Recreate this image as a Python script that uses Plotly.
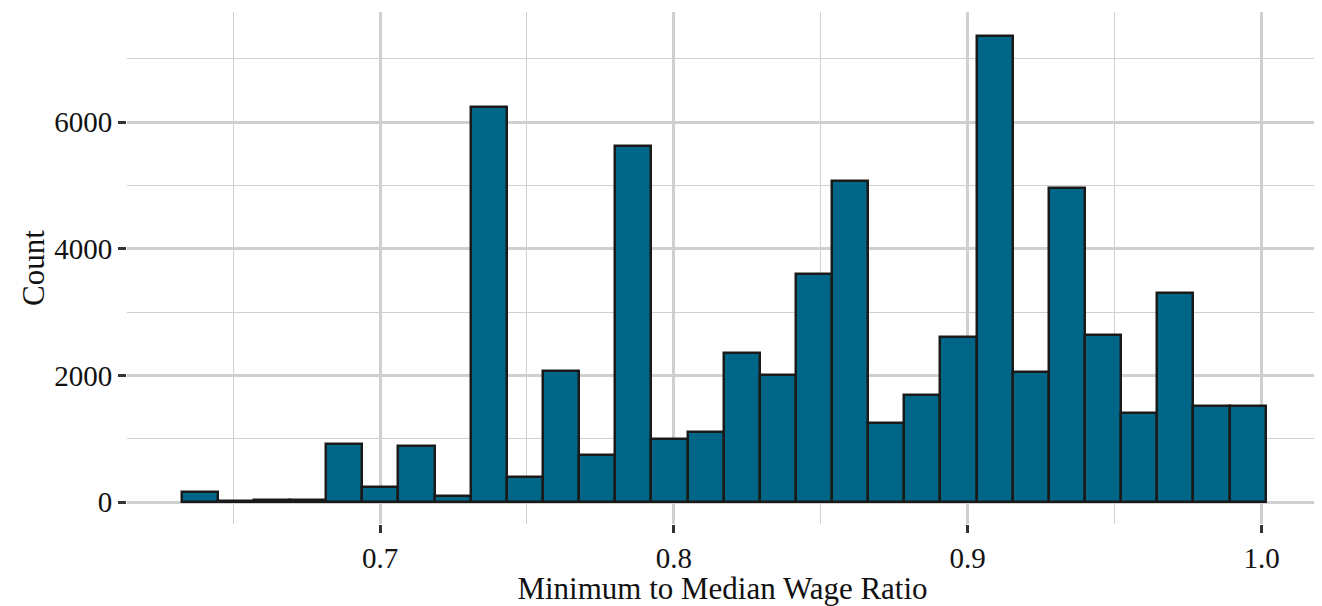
import plotly.graph_objects as go

# Histogram bins (30 equal-width bins)
bin_start = 0.6325
bin_width = 0.012296
counts = [160, 10, 25, 30, 920, 235, 890, 95, 6230, 395,
          2065, 740, 5620, 990, 1105, 2355, 2000, 3595, 5065, 1245,
          1685, 2605, 7360, 2060, 4960, 2635, 1400, 3300, 1510, 1510]

x_title = "Minimum to Median Wage Ratio"
y_title = "Count"
x_ticks = [0.7, 0.8, 0.9, 1.0]
x_ticktext = ["0.7", "0.8", "0.9", "1.0"]
y_ticks = [0, 2000, 4000, 6000]

centers = [bin_start + bin_width * (i + 0.5) for i in range(len(counts))]

fig = go.Figure(go.Bar(
    x=centers, y=counts, width=bin_width,
    marker=dict(color="#006688", line=dict(color="#1a1a1a", width=2.5)),
))

grid = "#d0d0d0"
fig.update_layout(
    width=1314, height=598,
    margin=dict(l=119, r=4, t=4, b=82),
    plot_bgcolor="white", paper_bgcolor="white",
    font=dict(family="Liberation Serif", size=31, color="#111111"),
    showlegend=False, bargap=0,
    xaxis=dict(
        range=[0.6139, 1.0192], tickvals=x_ticks, ticktext=x_ticktext,
        showgrid=True, gridcolor=grid, gridwidth=2.5, zeroline=False, showline=False,
        ticks="outside", ticklen=8, tickwidth=2.5, tickcolor="#333333",
        minor=dict(tickvals=[0.65, 0.75, 0.85, 0.95], showgrid=True, gridcolor=grid, gridwidth=1.3, ticks=""),
        title=dict(text=x_title, standoff=2, font=dict(size=31)),
        tickfont=dict(size=29, color="#111111"),
        automargin=False,
    ),
    yaxis=dict(
        range=[-347, 7737], tickvals=y_ticks,
        showgrid=True, gridcolor=grid, gridwidth=2.5, zeroline=False, showline=False,
        ticks="outside", ticklen=8, tickwidth=2.5, tickcolor="#333333",
        minor=dict(tickvals=[1000, 3000, 5000, 7000], showgrid=True, gridcolor=grid, gridwidth=1.3, ticks=""),
        title=dict(text=y_title, standoff=0, font=dict(size=31)),
        tickfont=dict(size=29, color="#111111"),
        automargin=False,
    ),
)

fig.write_html("out.html")
